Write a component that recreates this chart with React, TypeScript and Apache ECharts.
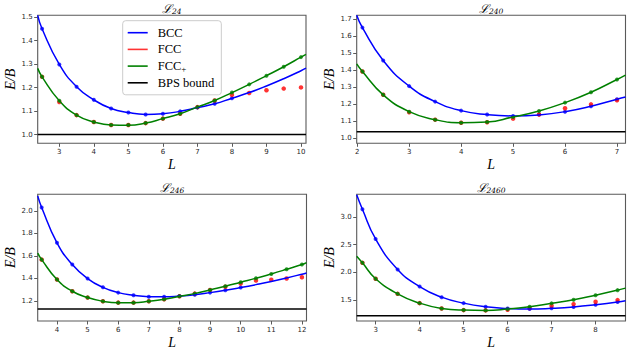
import React, { useEffect, useRef } from 'react';
import * as echarts from 'echarts';

// ---------------- L_24 ----------------
const l24 = [2.5, 3, 3.5, 4, 4.5, 5, 5.5, 6, 6.5, 7, 7.5, 8, 8.5, 9, 9.5, 10];
const bcc24 = [1.451, 1.299, 1.204, 1.148, 1.111, 1.094, 1.086, 1.089, 1.099, 1.115, 1.131, 1.155, null, null, null, null];
const fcc24 = [1.246, 1.139, 1.083, 1.054, 1.041, 1.041, 1.049, 1.068, 1.089, 1.117, 1.145, 1.169, 1.177, 1.189, 1.196, 1.201];
const fccPlus24 = [1.246, 1.144, 1.083, 1.054, 1.041, 1.041, 1.049, 1.068, 1.089, 1.117, 1.145, 1.179, 1.214, 1.251, 1.289, 1.330];
const bccFitL24 = [2.374, 2.5, 3, 3.5, 4, 4.5, 5, 5.5, 6, 6.5, 7, 7.5, 8, 8.5, 9, 9.5, 10, 10.145];
const bccFit24 = [1.508, 1.451, 1.299, 1.204, 1.148, 1.111, 1.094, 1.086, 1.089, 1.099, 1.115, 1.131, 1.155, 1.179, 1.207, 1.238, 1.272, 1.283];
const fccPlusFitL24 = [2.374, 2.5, 3, 3.5, 4, 4.5, 5, 5.5, 6, 6.5, 7, 7.5, 8, 8.5, 9, 9.5, 10, 10.145];
const fccPlusFit24 = [1.282, 1.246, 1.144, 1.083, 1.054, 1.041, 1.040, 1.049, 1.068, 1.089, 1.117, 1.145, 1.179, 1.214, 1.251, 1.289, 1.330, 1.342];
const bps24 = 1.0;
const xTicks24 = [3, 4, 5, 6, 7, 8, 9, 10];
const yTicks24 = [1.0, 1.1, 1.2, 1.3, 1.4, 1.5];

// ---------------- L_240 ----------------
const l240 = [2.1, 2.5, 3, 3.5, 4, 4.5, 5, 5.5, 6, 6.5, 7];
const bcc240 = [1.651, 1.458, 1.307, 1.216, 1.163, 1.140, 1.132, 1.140, 1.157, 1.189, 1.230];
const fcc240 = [1.393, 1.256, 1.153, 1.110, 1.092, 1.095, 1.116, 1.140, 1.177, 1.200, 1.224];
const fccPlus240 = [1.393, 1.256, 1.157, 1.110, 1.092, 1.096, 1.126, 1.161, 1.210, 1.271, 1.346];
const bccFitL240 = [1.99, 2.1, 2.5, 3, 3.5, 4, 4.5, 5, 5.5, 6, 6.5, 7, 7.164];
const bccFit240 = [1.724, 1.651, 1.458, 1.307, 1.216, 1.163, 1.140, 1.132, 1.138, 1.157, 1.189, 1.230, 1.243];
const fccPlusFitL240 = [1.99, 2.1, 2.5, 3, 3.5, 4, 4.5, 5, 5.5, 6, 6.5, 7, 7.164];
const fccPlusFit240 = [1.438, 1.393, 1.256, 1.157, 1.110, 1.092, 1.096, 1.126, 1.161, 1.210, 1.271, 1.346, 1.372];
const bps240 = 1.039;
const xTicks240 = [2, 3, 4, 5, 6, 7];
const yTicks240 = [1.0, 1.1, 1.2, 1.3, 1.4, 1.5, 1.6, 1.7];

// ---------------- L_246 ----------------
const l246 = [3.5, 4, 4.5, 5, 5.5, 6, 6.5, 7, 7.5, 8, 8.5, 9, 9.5, 10, 10.5, 11, 11.5, 12];
const bcc246 = [2.030, 1.716, 1.523, 1.399, 1.321, 1.274, 1.250, 1.238, 1.238, 1.244, 1.256, 1.274, 1.295, 1.319, null, null, null, null];
const fcc246 = [1.567, 1.390, 1.286, 1.230, 1.197, 1.185, 1.185, 1.197, 1.215, 1.241, 1.265, 1.298, 1.326, 1.354, 1.382, 1.388, 1.399, 1.411];
const fccPlus246 = [1.567, 1.390, 1.286, 1.230, 1.197, 1.185, 1.185, 1.197, 1.215, 1.241, 1.265, 1.298, 1.330, 1.366, 1.401, 1.440, 1.481, 1.523];
const bccFitL246 = [3.37, 3.5, 4, 4.5, 5, 5.5, 6, 6.5, 7, 7.5, 8, 8.5, 9, 9.5, 10, 10.5, 11, 11.5, 12, 12.15];
const bccFit246 = [2.133, 2.030, 1.716, 1.523, 1.399, 1.321, 1.274, 1.250, 1.238, 1.237, 1.244, 1.256, 1.274, 1.295, 1.319, 1.345, 1.373, 1.404, 1.438, 1.449];
const fccPlusFitL246 = [3.37, 3.5, 4, 4.5, 5, 5.5, 6, 6.5, 7, 7.5, 8, 8.5, 9, 9.5, 10, 10.5, 11, 11.5, 12, 12.15];
const fccPlusFit246 = [1.624, 1.567, 1.390, 1.286, 1.230, 1.197, 1.184, 1.185, 1.197, 1.215, 1.241, 1.265, 1.298, 1.330, 1.366, 1.401, 1.440, 1.481, 1.523, 1.541];
const bps246 = 1.129;
const xTicks246 = [4, 5, 6, 7, 8, 9, 10, 11, 12];
const yTicks246 = [1.2, 1.4, 1.6, 1.8, 2.0];

// ---------------- L_2460 ----------------
const l2460 = [2.7, 3, 3.5, 4, 4.5, 5, 5.5, 6, 6.5, 7, 7.5, 8, 8.5];
const bcc2460 = [3.137, 2.600, 2.050, 1.739, 1.548, 1.440, 1.374, 1.344, 1.334, 1.346, 1.370, 1.410, 1.460];
const fcc2460 = [2.169, 1.882, 1.608, 1.440, 1.344, 1.314, 1.309, 1.321, 1.352, 1.393, 1.423, 1.464, 1.495];
const fccPlus2460 = [2.169, 1.882, 1.608, 1.440, 1.344, 1.314, 1.309, 1.332, 1.374, 1.436, 1.500, 1.584, 1.675];
const bccFitL2460 = [2.57, 2.7, 3, 3.5, 4, 4.5, 5, 5.5, 6, 6.5, 7, 7.5, 8, 8.5, 8.68];
const bccFit2460 = [3.400, 3.137, 2.600, 2.050, 1.739, 1.548, 1.440, 1.374, 1.344, 1.334, 1.346, 1.370, 1.410, 1.460, 1.485];
const fccPlusFitL2460 = [2.57, 2.7, 3, 3.5, 4, 4.5, 5, 5.5, 6, 6.5, 7, 7.5, 8, 8.5, 8.68];
const fccPlusFit2460 = [2.289, 2.169, 1.882, 1.608, 1.440, 1.344, 1.314, 1.309, 1.332, 1.374, 1.436, 1.500, 1.584, 1.675, 1.712];
const bps2460 = 1.213;
const xTicks2460 = [3, 4, 5, 6, 7, 8];
const yTicks2460 = [1.5, 2.0, 2.5, 3.0];

const BLUE = '#0000ff';
const RED = '#ff0000';
const GREEN = '#008000';
const BLACK = '#000000';
const SPINE = '#5a5a5a';

function pairs(xs: number[], ys: (number | null)[]) {
  const out: number[][] = [];
  xs.forEach((x, i) => {
    const y = ys[i];
    if (y !== null && y !== undefined) out.push([x, y]);
  });
  return out;
}

const panels = [
  {
    sub: '24', L: l24, bcc: bcc24, fcc: fcc24, fccp: fccPlus24,
    bFitL: bccFitL24, bFit: bccFit24, gFitL: fccPlusFitL24, gFit: fccPlusFit24,
    bps: bps24, xr: [2.374, 10.145], yr: [0.963, 1.5085], xt: xTicks24, yt: yTicks24,
    grid: { left: 37.7, top: 15.2, width: 268.3, height: 128.1 },
  },
  {
    sub: '240', L: l240, bcc: bcc240, fcc: fcc240, fccp: fccPlus240,
    bFitL: bccFitL240, bFit: bccFit240, gFitL: fccPlusFitL240, gFit: fccPlusFit240,
    bps: bps240, xr: [1.99, 7.164], yr: [0.971, 1.724], xt: xTicks240, yt: yTicks240,
    grid: { left: 356.7, top: 15.2, width: 268.8, height: 128.1 },
  },
  {
    sub: '246', L: l246, bcc: bcc246, fcc: fcc246, fccp: fccPlus246,
    bFitL: bccFitL246, bFit: bccFit246, gFitL: fccPlusFitL246, gFit: fccPlusFit246,
    bps: bps246, xr: [3.37, 12.15], yr: [1.022, 2.148], xt: xTicks246, yt: yTicks246,
    grid: { left: 37.7, top: 194.2, width: 268.8, height: 127.3 },
  },
  {
    sub: '2460', L: l2460, bcc: bcc2460, fcc: fcc2460, fccp: fccPlus2460,
    bFitL: bccFitL2460, bFit: bccFit2460, gFitL: fccPlusFitL2460, gFit: fccPlusFit2460,
    bps: bps2460, xr: [2.57, 8.68], yr: [1.117, 3.41], xt: xTicks2460, yt: yTicks2460,
    grid: { left: 356.7, top: 194.2, width: 268.8, height: 127.3 },
  },
];

const tickLabel = { fontFamily: 'DejaVu Sans', fontSize: 7, color: '#262626' };
const nameStyle = { fontFamily: 'Liberation Serif', fontStyle: 'italic' as const, fontWeight: 'normal' as const, fontSize: 14, color: '#000' };

function buildOption() {
  const grid: any[] = [];
  const xAxis: any[] = [];
  const yAxis: any[] = [];
  const series: any[] = [];
  const graphic: any[] = [];

  panels.forEach((p, i) => {
    grid.push({
      ...p.grid,
      show: true,
      borderColor: SPINE,
      borderWidth: 1.1,
      backgroundColor: 'transparent',
      containLabel: false,
    });
    xAxis.push({
      type: 'value', gridIndex: i, min: p.xr[0], max: p.xr[1],
      name: 'L', nameLocation: 'middle', nameGap: 14, nameTextStyle: nameStyle,
      axisLine: { show: false },
      axisTick: { show: true, length: 3.5, customValues: p.xt, lineStyle: { color: SPINE, width: 1 } },
      axisLabel: { show: true, margin: 5, customValues: p.xt, formatter: (v: number) => String(Math.round(v)), ...tickLabel },
      splitLine: { show: false },
    });
    yAxis.push({
      type: 'value', gridIndex: i, min: p.yr[0], max: p.yr[1],
      name: 'E/B', nameLocation: 'middle', nameGap: 19, nameRotate: 90, nameTextStyle: nameStyle,
      axisLine: { show: false },
      axisTick: { show: true, length: 3.5, customValues: p.yt, lineStyle: { color: SPINE, width: 1 } },
      axisLabel: { show: true, margin: 5, customValues: p.yt, formatter: (v: number) => v.toFixed(1), ...tickLabel },
      splitLine: { show: false },
    });

    const common = { xAxisIndex: i, yAxisIndex: i, silent: true };
    series.push({
      ...common, type: 'line', name: 'BCC', data: pairs(p.bFitL, p.bFit),
      smooth: 0.5, showSymbol: false, symbol: 'none',
      lineStyle: { color: BLUE, width: 1.5 }, itemStyle: { color: BLUE },
    });
    series.push({
      ...common, type: 'scatter', name: 'BCC', data: pairs(p.L, p.bcc),
      symbol: 'circle', symbolSize: 4, itemStyle: { color: BLUE },
    });
    series.push({
      ...common, type: 'scatter', name: 'FCC', data: pairs(p.L, p.fcc),
      symbol: 'circle', symbolSize: 4.5, itemStyle: { color: RED },
    });
    series.push({
      ...common, type: 'line', name: 'FCC+', data: pairs(p.gFitL, p.gFit),
      smooth: 0.5, showSymbol: false, symbol: 'none',
      lineStyle: { color: GREEN, width: 1.5 }, itemStyle: { color: GREEN },
    });
    series.push({
      ...common, type: 'scatter', name: 'FCC+', data: pairs(p.L, p.fccp),
      symbol: 'circle', symbolSize: 4, itemStyle: { color: GREEN },
    });
    series.push({
      ...common, type: 'line', name: 'BPS bound', data: [[p.xr[0], p.bps], [p.xr[1], p.bps]],
      showSymbol: false, symbol: 'none',
      lineStyle: { color: BLACK, width: 1.5 }, itemStyle: { color: BLACK },
    });

    graphic.push({
      type: 'text',
      x: p.grid.left + p.grid.width / 2,
      y: p.grid.top - 6.5,
      style: {
        text: '{a|ℒ}{b|' + p.sub + '}',
        align: 'center',
        verticalAlign: 'middle',
        rich: {
          a: { fontFamily: 'DejaVu Serif', fontStyle: 'italic', fontSize: 12, fill: '#000', lineHeight: 14 },
          b: { fontFamily: 'DejaVu Serif', fontStyle: 'italic', fontSize: 7.5, fill: '#000', verticalAlign: 'bottom', lineHeight: 14 },
        },
      },
    });
  });

  const legendFont = { fontFamily: 'Liberation Serif', fontSize: 12.5, fontWeight: 'normal', color: '#000', lineHeight: 14 };
  return {
    animation: false,
    backgroundColor: '#ffffff',
    textStyle: { fontFamily: 'Liberation Serif' },
    grid, xAxis, yAxis, series, graphic,
    legend: {
      show: true,
      orient: 'vertical',
      left: 122.7,
      top: 20.7,
      padding: [5, 7, 5, 5],
      itemGap: 2.7,
      itemWidth: 20,
      itemHeight: 1.6,
      icon: 'rect',
      selectedMode: false,
      backgroundColor: 'rgba(255,255,255,0.85)',
      borderColor: '#cccccc',
      borderWidth: 1,
      borderRadius: 3,
      data: ['BCC', 'FCC', 'FCC+', 'BPS bound'],
      formatter: (name: string) => (name === 'FCC+' ? '{a|FCC}{s|+}' : '{a|' + name + '}'),
      textStyle: {
        ...legendFont,
        rich: {
          a: { ...legendFont, padding: [0, 0, 0, 5] },
          s: { fontFamily: 'Liberation Serif', fontSize: 9, color: '#000', verticalAlign: 'bottom', lineHeight: 14 },
        },
      },
    },
  };
}

export default function App() {
  const ref = useRef<HTMLDivElement>(null);
  useEffect(() => {
    document.body.style.margin = '0';
    if (!ref.current) return;
    const chart = echarts.init(ref.current, undefined, { renderer: 'svg' });
    chart.setOption(buildOption() as any);
    return () => chart.dispose();
  }, []);
  return <div ref={ref} style={{ width: 632, height: 350 }} />;
}
